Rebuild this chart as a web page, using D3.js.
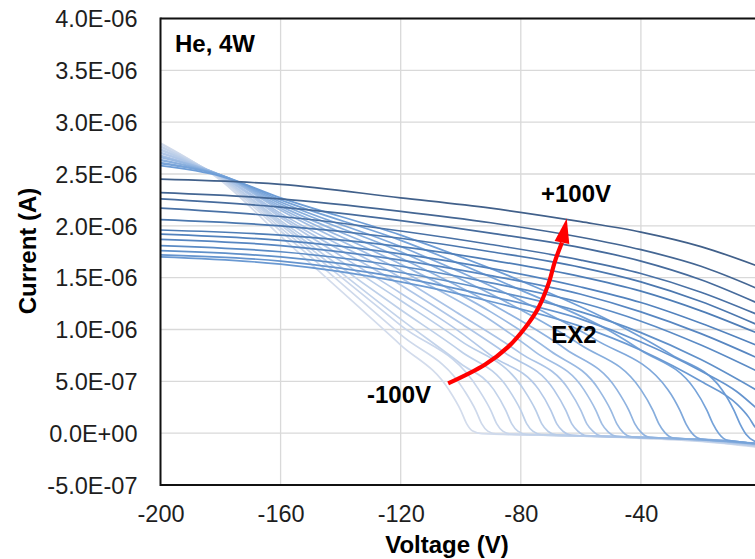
<!DOCTYPE html>
<html><head><meta charset="utf-8">
<script src="https://cdn.jsdelivr.net/npm/d3@7"></script>
<style>
html,body{margin:0;padding:0;background:#fff;}
svg{display:block;font-family:"Liberation Sans",Arial,sans-serif;}
</style></head>
<body><svg id="chart" width="755" height="559"></svg>
<script>
// ---- data (current values in units of 1e-6 A) ----
const CURRENT_UNIT = 1e-6;
const voltageTicks = [-200, -160, -120, -80, -40];
const voltageTickLabels = ["-200", "-160", "-120", "-80", "-40"];
const currentTicks = [-5e-7, 0, 5e-7, 1e-6, 1.5e-6, 2e-6, 2.5e-6, 3e-6, 3.5e-6, 4e-6];
const currentTickLabels = ["-5.0E-07","0.0E+00","5.0E-07","1.0E-06","1.5E-06","2.0E-06","2.5E-06","3.0E-06","3.5E-06","4.0E-06"];
const sweepEndLabels = ["-100V", "+100V"];

// sweeps from lowest EX2 bias (pale) to highest (dark)
const iv_01 = [[-200,2.80],[-180,2.44],[-160,1.90],[-120,0.85],[-104,0.42],[-100,0.22],[-98,0.09],[-96,0.02],[-93,-0.005],[-70,-0.02],[-40,-0.05],[-20,-0.08],[0,-0.14]];
const iv_02 = [[-200,2.79],[-180,2.45],[-160,1.95],[-120,0.95],[-99,0.42],[-95,0.22],[-93,0.09],[-91,0.02],[-88,-0.008],[-65,-0.025],[-35,-0.05],[-15,-0.08],[0,-0.135]];
const iv_03 = [[-200,2.77],[-180,2.46],[-160,1.98],[-120,1.04],[-94,0.42],[-90,0.22],[-88,0.09],[-86,0.02],[-83,-0.01],[-60,-0.026],[-30,-0.05],[-12,-0.08],[0,-0.13]];
const iv_04 = [[-200,2.76],[-180,2.46],[-160,2.01],[-120,1.10],[-100,0.67],[-89,0.42],[-85,0.22],[-83,0.09],[-81,0.02],[-78,-0.012],[-55,-0.03],[-30,-0.055],[0,-0.13]];
const iv_05 = [[-200,2.74],[-180,2.47],[-160,2.03],[-120,1.19],[-100,0.79],[-84,0.42],[-80,0.22],[-78,0.09],[-76,0.02],[-73,-0.014],[-50,-0.032],[-25,-0.06],[0,-0.125]];
const iv_06 = [[-200,2.73],[-180,2.47],[-160,2.05],[-120,1.28],[-100,0.89],[-79,0.42],[-75,0.22],[-73,0.09],[-71,0.02],[-68,-0.017],[-45,-0.035],[-25,-0.06],[0,-0.125]];
const iv_07 = [[-200,2.71],[-180,2.48],[-160,2.08],[-120,1.35],[-100,0.97],[-90,0.75],[-74,0.42],[-70,0.22],[-68,0.09],[-66,0.02],[-63,-0.02],[-40,-0.04],[-20,-0.065],[0,-0.12]];
const iv_08 = [[-200,2.70],[-180,2.48],[-160,2.10],[-120,1.43],[-100,1.06],[-85,0.77],[-69,0.42],[-65,0.22],[-63,0.09],[-61,0.02],[-58,-0.024],[-35,-0.045],[-15,-0.07],[0,-0.12]];
const iv_09 = [[-200,2.68],[-180,2.48],[-160,2.12],[-120,1.50],[-100,1.14],[-80,0.77],[-64,0.42],[-60,0.22],[-58,0.09],[-56,0.02],[-53,-0.028],[-30,-0.05],[-10,-0.075],[0,-0.115]];
const iv_10 = [[-200,2.67],[-180,2.49],[-160,2.15],[-120,1.57],[-90,1.09],[-75,0.78],[-59,0.42],[-55,0.22],[-53,0.09],[-51,0.015],[-48,-0.03],[-30,-0.05],[-10,-0.075],[0,-0.115]];
const iv_11 = [[-200,2.66],[-180,2.49],[-160,2.17],[-120,1.63],[-90,1.17],[-70,0.79],[-54,0.42],[-50,0.22],[-48,0.09],[-46,0.01],[-43,-0.035],[-25,-0.055],[0,-0.11]];
const iv_12 = [[-200,2.64],[-180,2.49],[-160,2.19],[-120,1.69],[-90,1.25],[-65,0.81],[-48,0.42],[-44,0.22],[-42,0.09],[-40,0.01],[-37,-0.04],[-20,-0.06],[0,-0.11]];
const iv_13 = [[-200,2.63],[-180,2.49],[-160,2.21],[-120,1.75],[-80,1.19],[-60,0.85],[-40,0.42],[-36,0.22],[-34,0.09],[-32,0.005],[-29,-0.048],[-15,-0.07],[0,-0.105]];
const iv_14 = [[-200,2.61],[-180,2.49],[-160,2.23],[-120,1.80],[-80,1.28],[-55,0.90],[-31,0.42],[-27,0.22],[-25,0.09],[-23,0.0],[-20,-0.058],[-10,-0.08],[0,-0.105]];
const iv_15 = [[-200,2.60],[-180,2.49],[-160,2.25],[-120,1.86],[-80,1.38],[-50,0.98],[-40,0.80],[-22,0.42],[-18,0.22],[-16,0.09],[-14,-0.005],[-11,-0.07],[0,-0.10]];
const iv_16 = [[-200,2.58],[-180,2.48],[-160,2.27],[-120,1.91],[-80,1.47],[-50,1.08],[-30,0.76],[-13,0.42],[-9,0.22],[-7,0.09],[-5,-0.01],[-2,-0.08],[0,-0.095]];
const iv_17 = [[-200,1.70],[-160,1.63],[-120,1.46],[-90,1.27],[-60,1.03],[-40,0.80],[-20,0.50],[-8,0.28],[-4,0.15],[-2,0.06],[0,0.01]];
const iv_18 = [[-200,1.72],[-160,1.66],[-120,1.50],[-90,1.32],[-60,1.10],[-40,0.88],[-20,0.60],[-8,0.40],[0,0.20]];
const iv_19 = [[-200,1.76],[-160,1.70],[-120,1.55],[-90,1.38],[-60,1.17],[-40,0.97],[-20,0.71],[0,0.39]];
const iv_20 = [[-200,1.81],[-160,1.75],[-120,1.61],[-90,1.45],[-60,1.26],[-40,1.08],[-20,0.85],[0,0.58]];
const iv_21 = [[-200,1.87],[-160,1.81],[-120,1.67],[-90,1.52],[-60,1.34],[-40,1.17],[-20,0.96],[0,0.71]];
const iv_22 = [[-200,1.92],[-160,1.86],[-120,1.73],[-90,1.59],[-60,1.41],[-40,1.26],[-20,1.06],[0,0.83]];
const iv_23 = [[-200,1.96],[-160,1.91],[-120,1.80],[-90,1.67],[-60,1.51],[-40,1.37],[-20,1.18],[0,0.95]];
const iv_24 = [[-200,2.06],[-160,2.00],[-120,1.88],[-90,1.75],[-60,1.60],[-40,1.46],[-20,1.27],[0,1.03]];
const iv_25 = [[-200,2.17],[-160,2.09],[-120,1.95],[-90,1.82],[-60,1.67],[-40,1.54],[-20,1.36],[0,1.13]];
const iv_26 = [[-200,2.26],[-160,2.18],[-120,2.05],[-90,1.93],[-60,1.79],[-40,1.66],[-20,1.48],[0,1.24]];
const iv_27 = [[-200,2.32],[-160,2.26],[-120,2.14],[-90,2.03],[-60,1.89],[-40,1.77],[-20,1.61],[0,1.38]];
const iv_28 = [[-200,2.45],[-160,2.40],[-120,2.27],[-90,2.17],[-60,2.04],[-40,1.94],[-20,1.80],[0,1.60]];

const sweeps = [iv_01, iv_02, iv_03, iv_04, iv_05, iv_06, iv_07, iv_08, iv_09, iv_10, iv_11, iv_12, iv_13, iv_14,
                iv_15, iv_16, iv_17, iv_18, iv_19, iv_20, iv_21, iv_22, iv_23, iv_24, iv_25, iv_26, iv_27, iv_28];

// annotation arrow path (data coordinates, current in 1e-6 A)
const arrowPath = [[-104.2,0.48],[-92,0.66],[-84.3,0.83],[-78.5,1.02],[-74.3,1.20],[-70.8,1.44],[-68.6,1.66],[-66.3,1.84]];
const arrowTip = [-64.7, 2.07];

// ---- drawing ----
(function draw() {
const svg = d3.select("#chart");
const W = 755, H = 559;
const pLeft = 160.5, pTop = 18.5, pBottom = 485, pRightAtZero = 761;

const x = d3.scaleLinear().domain([-200, 0]).range([pLeft, pRightAtZero]);
const y = d3.scaleLinear().domain([-5e-7, 4e-6]).range([pBottom, pTop]);

svg.append("rect").attr("width", W).attr("height", H).attr("fill", "#fff");

const grid = svg.append("g");
grid.selectAll("line.h").data(currentTicks.filter(d => d > -5e-7)).join("line")
  .attr("x1", pLeft).attr("x2", W).attr("y1", d => y(d)).attr("y2", d => y(d))
  .attr("stroke", "#d9d9d9").attr("stroke-width", 1.3);
grid.selectAll("line.v").data(voltageTicks.filter(d => d > -200).concat([0])).join("line")
  .attr("x1", d => x(d)).attr("x2", d => x(d)).attr("y1", pTop).attr("y2", pBottom)
  .attr("stroke", "#d9d9d9").attr("stroke-width", 1.3);

svg.append("clipPath").attr("id", "plotclip").append("rect")
  .attr("x", pLeft).attr("y", pTop).attr("width", pRightAtZero - pLeft).attr("height", pBottom - pTop);

const colorScale = d3.scaleLinear()
  .domain([0, 0.3, 0.55, 0.8, 1])
  .range(["#d3dcec", "#a9c3e6", "#6f9ed7", "#4f7fba", "#41608a"])
  .interpolate(d3.interpolateRgb);

const line = d3.line()
  .x(d => x(d[0]))
  .y(d => y(d[1] * CURRENT_UNIT))
  .curve(d3.curveMonotoneX);

const gLines = svg.append("g").attr("clip-path", "url(#plotclip)");
gLines.selectAll("path").data(sweeps).join("path")
  .attr("d", line)
  .attr("fill", "none")
  .attr("stroke", (d, i) => colorScale(i / (sweeps.length - 1)))
  .attr("stroke-width", 1.7);

const yAxis = d3.axisLeft(y).tickValues(currentTicks).tickSize(0)
  .tickFormat((d, i) => currentTickLabels[i]);
const gy = svg.append("g").attr("transform", `translate(${pLeft},0)`).call(yAxis);
gy.select(".domain").remove();
gy.selectAll("text").attr("x", -23).attr("dy", "0.35em")
  .style("font-size", "23.5px").style("font-family", "'Liberation Sans',Arial,sans-serif").attr("fill", "#1e1e1e");

const xAxis = d3.axisBottom(x).tickValues(voltageTicks).tickSize(0)
  .tickFormat((d, i) => voltageTickLabels[i]);
const gx = svg.append("g").attr("transform", `translate(0,${pBottom})`).call(xAxis);
gx.select(".domain").remove();
gx.selectAll("text").attr("y", 20).attr("dy", "0.71em")
  .style("font-size", "23.5px").style("font-family", "'Liberation Sans',Arial,sans-serif").attr("fill", "#1e1e1e");

svg.append("line").attr("x1", pLeft).attr("x2", W).attr("y1", pTop).attr("y2", pTop).attr("stroke", "#111").attr("stroke-width", 2);
svg.append("line").attr("x1", pLeft).attr("x2", pLeft).attr("y1", pTop - 1).attr("y2", pBottom + 1).attr("stroke", "#111").attr("stroke-width", 2);
svg.append("line").attr("x1", pLeft).attr("x2", W).attr("y1", pBottom).attr("y2", pBottom).attr("stroke", "#111").attr("stroke-width", 2);

svg.append("text").attr("x", 447).attr("y", 553).attr("text-anchor", "middle")
  .style("font-size", "24px").style("font-weight", "bold").text("Voltage (V)");
svg.append("text").attr("transform", "translate(36,251) rotate(-90)").attr("text-anchor", "middle")
  .style("font-size", "24px").style("font-weight", "bold").text("Current (A)");

svg.append("text").attr("x", 175).attr("y", 52).style("font-size", "24px").style("font-weight", "bold").text("He, 4W");
svg.append("text").attr("x", 576).attr("y", 202).attr("text-anchor", "middle").style("font-size", "24px").style("font-weight", "bold").text(sweepEndLabels[1]);
svg.append("text").attr("x", 399).attr("y", 403).attr("text-anchor", "middle").style("font-size", "24px").style("font-weight", "bold").text(sweepEndLabels[0]);
svg.append("text").attr("x", 574).attr("y", 343).attr("text-anchor", "middle").style("font-size", "24px").style("font-weight", "bold").text("EX2");

const arrowLine = d3.line().x(d => x(d[0])).y(d => y(d[1] * CURRENT_UNIT)).curve(d3.curveCatmullRom);
svg.append("path").attr("d", arrowLine(arrowPath)).attr("fill", "none")
  .attr("stroke", "#ff0000").attr("stroke-width", 4.2).attr("stroke-linecap", "butt");
const last = arrowPath[arrowPath.length - 1];
const bx = x(last[0]), by = y(last[1] * CURRENT_UNIT);
const tx = x(arrowTip[0]), ty = y(arrowTip[1] * CURRENT_UNIT);
const dx = tx - bx, dy = ty - by, len = Math.hypot(dx, dy);
const nx = -dy / len, ny = dx / len, hw = 7.5;
svg.append("path")
  .attr("d", `M${tx},${ty} L${bx + nx * hw},${by + ny * hw} L${bx - nx * hw},${by - ny * hw} Z`)
  .attr("fill", "#ff0000");
})();
</script></body></html>
